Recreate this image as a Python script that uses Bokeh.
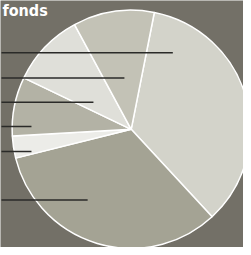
import numpy as np
from bokeh.plotting import figure
from bokeh.models import ColumnDataSource, Range1d
from bokeh.core.properties import value
from bokeh.embed import file_html
from bokeh.resources import INLINE

# ---- data ----
slices = ["A", "B", "C", "D", "E", "F"]
shares = [35, 33, 3, 8, 10, 11]          # percent, clockwise from the top-right slice
slice_colors = ["#d3d3ca", "#a4a394", "#ecece8", "#b3b2a5", "#dfdfd9", "#c3c2b6"]
title_text = "fonds"

# ---- layout (reference pixel space, 251 x 255, y measured downward) ----
W_REF, H_REF = 251, 255
CX, CY, R = 135, 133, 123
START_CW = 11.2                           # degrees clockwise from 12 o'clock
leader_y = [54, 80, 105, 130, 156, 206]
leader_x1 = [178, 128, 96, 32, 32, 90]
BG = "#737067"

def fy(y):
    return H_REF - y

frac = np.array(shares, dtype=float) / sum(shares)
cum = np.concatenate([[0.0], np.cumsum(frac)]) * 360.0 + START_CW
cw_start = cum[:-1]
cw_end = cum[1:]
start_angle = np.deg2rad(90.0 - cw_end)
end_angle = np.deg2rad(90.0 - cw_start)

src = ColumnDataSource(dict(
    name=slices, share=shares, color=slice_colors,
    start=start_angle, end=end_angle,
))

p = figure(width=243, height=247, output_backend="svg", toolbar_location=None,
           x_range=Range1d(0, W_REF), y_range=Range1d(0, H_REF),
           min_border=0, background_fill_color=BG, border_fill_color=BG)
p.axis.visible = False
p.grid.visible = False
p.outline_line_color = None

p.wedge(x=CX, y=fy(CY), radius=R, start_angle="start", end_angle="end",
        fill_color="color", line_color="white", line_width=1.5, source=src)

lsrc = ColumnDataSource(dict(x0=[1] * len(leader_y), x1=leader_x1,
                             y=[fy(v) for v in leader_y]))
p.segment(x0="x0", y0="y", x1="x1", y1="y", line_color="#2a2a28",
          line_width=1.5, source=lsrc)

p.text(x=[2], y=[fy(10.5)], text=[title_text], text_color="white",
       text_font=value("DejaVu Sans Condensed"), text_font_style="bold",
       text_font_size="16px", text_baseline="alphabetic", text_align="left")

open("out.html", "w").write(file_html(p, INLINE))
